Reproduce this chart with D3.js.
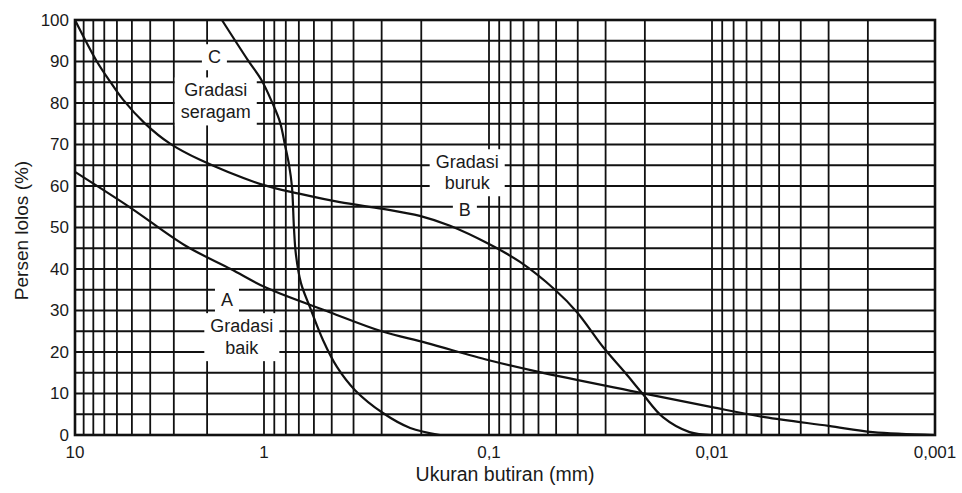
<!DOCTYPE html>
<html>
<head>
<meta charset="utf-8">
<script src="https://cdn.jsdelivr.net/npm/d3@7/dist/d3.min.js"></script>
<style>
	body { margin: 0; background: #fff; }
	svg text { font-family: "Liberation Sans", Arial, sans-serif; fill: #1a1a1a; }
</style>
</head>
<body>
<svg id="chart" width="962" height="493"></svg>
<script>
"use strict";

// ukuran butiran (mm), persen lolos (%)
var gradA = [[10,63.4],[5.1,54.8],[2.6,45.6],[1.5,40],[0.97,35.4],[0.51,29.6],[0.3,25],[0.19,22.2],
	[0.1,18],[0.06,15.2],[0.0206,10.1],[0.01,6.7],[0.0058,4.3],[0.003,2.2],[0.0019,0.7],[0.001,0]];
var gradB = [[10,100],[7.66,90],[6.53,85.2],[5.57,80.8],[4.27,75.1],[3.14,70.2],[2.18,66.3],[1,60.2],
	[0.69,58.1],[0.46,56.1],[0.296,54.5],[0.203,52.8],[0.149,50.4],[0.1,46],[0.0726,41.7],[0.0506,35],
	[0.0403,29.6],[0.0308,21.2],[0.0245,15],[0.0206,10.1],[0.0166,4.3],[0.0126,0.7],[0.01,0]];
var gradC = [[1.67,100],[1.22,90.4],[1.03,85.5],[0.921,80.2],[0.849,75.4],[0.807,69.9],[0.774,65.1],
	[0.751,59.8],[0.736,49.9],[0.721,43.4],[0.685,36.6],[0.625,30.8],[0.547,22.9],[0.474,16.4],
	[0.394,10.8],[0.296,5.3],[0.224,1.7],[0.165,0]];

var decades = [10, 1, 0.1, 0.01, 0.001];
var xTickLabels = ["10", "1", "0,1", "0,01", "0,001"];
var yTicks = [0, 10, 20, 30, 40, 50, 60, 70, 80, 90, 100];

var labelA = ["A", "Gradasi", "baik"];
var labelB = ["Gradasi", "buruk", "B"];
var labelC = ["C", "Gradasi", "seragam"];
var xTitle = "Ukuran butiran (mm)";
var yTitle = "Persen lolos (%)";

var Chart = (function(){
	var svg, x, y;

	function init(el) {
		svg = d3.select("#" + el);
		// the hand-drawn sheet has a narrower first decade, so the log scale is piecewise
		x = d3.scaleLog().domain(decades).range([75, 264, 489, 712, 935]);
		y = d3.scaleLinear().domain([0, 100]).range([435, 20]);
		drawGrid();
		drawCurves();
		drawLabels();
		drawAxes();
	}

	function drawGrid() {
		var g = svg.append("g").attr("stroke", "#111").attr("stroke-width", 1.8);

		g.selectAll("line.v")
			.data(x.ticks())
			.enter()
			.append("line")
			.attr("class", "v")
			.attr("x1", function(d) { return x(d); })
			.attr("x2", function(d) { return x(d); })
			.attr("y1", y(0))
			.attr("y2", y(100));

		g.selectAll("line.h")
			.data(d3.range(0, 101, 5))
			.enter()
			.append("line")
			.attr("class", "h")
			.attr("x1", x(10))
			.attr("x2", x(0.001))
			.attr("y1", function(d) { return y(d); })
			.attr("y2", function(d) { return y(d); });

		svg.append("rect")
			.attr("x", x(10))
			.attr("y", y(100))
			.attr("width", x(0.001) - x(10))
			.attr("height", y(0) - y(100))
			.attr("fill", "none")
			.attr("stroke", "#111")
			.attr("stroke-width", 2.6);
	}

	function drawCurves() {
		var line = d3.line()
			.x(function(d) { return x(d[0]); })
			.y(function(d) { return y(d[1]); })
			.curve(d3.curveCatmullRom.alpha(0.5));

		svg.selectAll("path.grad")
			.data([gradA, gradB, gradC])
			.enter()
			.append("path")
			.attr("class", "grad")
			.attr("d", line)
			.attr("fill", "none")
			.attr("stroke", "#111")
			.attr("stroke-width", 2.2);
	}

	// writes a block of text lines centred on (xv, yv) and clears the grid behind it
	function annotate(lines, xv, yv, gap) {
		var g = svg.append("g");
		var bg = g.append("rect").attr("fill", "#fff");
		g.selectAll("text")
			.data(lines)
			.enter()
			.append("text")
			.attr("x", x(xv))
			.attr("y", function(d, i) { return y(yv) + i * gap; })
			.attr("dy", "0.35em")
			.attr("text-anchor", "middle")
			.attr("font-size", 18)
			.text(function(d) { return d; });
		var box = g.node().getBBox();
		bg.attr("x", box.x - 6).attr("y", box.y - 3)
			.attr("width", box.width + 12).attr("height", box.height + 6);
	}

	function drawLabels() {
		annotate(labelC.slice(0, 1), 1.83, 91.1, 0);
		annotate(labelC.slice(1), 1.8, 83.1, 22);
		annotate(labelA.slice(0, 1), 1.57, 32.5, 0);
		annotate(labelA.slice(1), 1.31, 26.3, 22);
		annotate(labelB.slice(0, 2), 0.125, 65.8, 21);
		annotate(labelB.slice(2), 0.128, 54.2, 0);
	}

	function drawAxes() {
		svg.selectAll("text.xt")
			.data(decades)
			.enter()
			.append("text")
			.attr("class", "xt")
			.attr("x", function(d) { return x(d); })
			.attr("y", 458)
			.attr("text-anchor", "middle")
			.attr("font-size", 17)
			.text(function(d, i) { return xTickLabels[i]; });

		svg.selectAll("text.yt")
			.data(yTicks)
			.enter()
			.append("text")
			.attr("class", "yt")
			.attr("x", 69)
			.attr("y", function(d) { return y(d); })
			.attr("dy", "0.35em")
			.attr("text-anchor", "end")
			.attr("font-size", 17)
			.text(function(d) { return d; });

		svg.append("text")
			.attr("x", (x(10) + x(0.001)) / 2)
			.attr("y", 481)
			.attr("text-anchor", "middle")
			.attr("font-size", 19.5)
			.text(xTitle);

		svg.append("text")
			.attr("transform", "translate(28," + (y(50) + 3) + ") rotate(-90)")
			.attr("text-anchor", "middle")
			.attr("font-size", 19)
			.text(yTitle);
	}

	return {
		"init": init
	};
}());

Chart.init("chart");
</script>
</body>
</html>
